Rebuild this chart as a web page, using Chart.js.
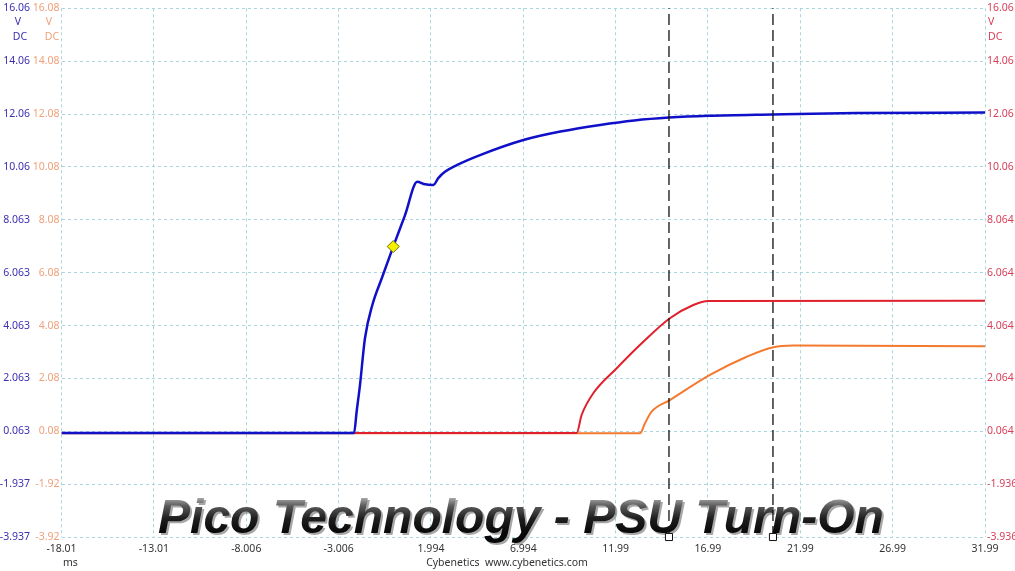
<!DOCTYPE html>
<html>
<head>
<meta charset="utf-8">
<script src="https://cdn.jsdelivr.net/npm/chart.js@4.4.1/dist/chart.umd.min.js"></script>
<style>
  html, body { margin: 0; padding: 0; background: #fff; }
  #wrap { width: 1015px; height: 571px; }
</style>
</head>
<body>
<div id="wrap"><canvas id="scope" width="1015" height="571"></canvas></div>
<script>
// time axis (ms)
const timeTicks = [-18.01, -13.01, -8.006, -3.006, 1.994, 6.994, 11.99, 16.99, 21.99, 26.99, 31.99];

// channel A (blue, left outer axis)
const blueTicks = [-3.937, -1.937, 0.063, 2.063, 4.063, 6.063, 8.063, 10.063, 12.063, 14.063, 16.063];
const blueTickLabels = ["-3.937", "-1.937", "0.063", "2.063", "4.063", "6.063", "8.063", "10.06", "12.06", "14.06", "16.06"];
// channel B (orange, left inner axis)
const orangeTicks = [-3.92, -1.92, 0.08, 2.08, 4.08, 6.08, 8.08, 10.08, 12.08, 14.08, 16.08];
const orangeTickLabels = ["-3.92", "-1.92", "0.08", "2.08", "4.08", "6.08", "8.08", "10.08", "12.08", "14.08", "16.08"];
// channel C (red, right axis)
const redTicks = [-3.936, -1.936, 0.064, 2.064, 4.064, 6.064, 8.064, 10.064, 12.064, 14.064, 16.064];
const redTickLabels = ["-3.936", "-1.936", "0.064", "2.064", "4.064", "6.064", "8.064", "10.06", "12.06", "14.06", "16.06"];

// traces
const blueTime  = [-18.01, -2.17, -2.03, -1.85, -1.58, -1.18, -0.67, -0.05, 0.59, 1.25, 1.6, 2.12, 2.4, 2.75, 3.39, 4.65, 7.0, 9.0, 11.15, 13.0, 14.88, 17.0, 20.51, 25.0, 31.99];
const blueVolts = [0.0, 0.0, 0.81, 1.81, 3.58, 4.84, 5.85, 7.05, 8.24, 9.50, 9.42, 9.38, 9.65, 9.88, 10.13, 10.51, 11.08, 11.4, 11.65, 11.82, 11.93, 12.0, 12.05, 12.1, 12.12];

const redTime  = [-18.01, 9.88, 10.15, 10.78, 12.05, 13.49, 14.93, 16.2, 17.01, 31.99];
const redVolts = [0.0, 0.0, 0.68, 1.50, 2.45, 3.45, 4.34, 4.84, 4.99, 5.0];

const orangeTime  = [-18.01, 13.31, 13.58, 13.94, 14.93, 17.1, 19.09, 20.53, 21.61, 31.99];
const orangeVolts = [0.0, 0.0, 0.38, 0.82, 1.26, 2.21, 2.90, 3.26, 3.32, 3.30];

// rulers and marker
const rulerTimes = [14.88, 20.51];
const markerPoint = { x: -0.05, y: 7.05 };

const pairs = (xs, ys) => xs.map((x, i) => ({ x: x, y: ys[i] }));

const fixTicks = (values) => (scale) => {
  scale.ticks = values.map((v) => ({ value: v }));
};

const rulerSets = rulerTimes.map((t) => ({
  data: [{ x: t, y: blueTicks[0] }, { x: t, y: blueTicks[blueTicks.length - 1] }],
  yAxisID: "yA",
  borderColor: "#111",
  borderWidth: 1.3,
  borderDash: [11, 5],
  pointStyle: "rect",
  pointRadius: [5, 0],
  pointBackgroundColor: "#fff",
  pointBorderColor: "#111",
  pointBorderWidth: 1,
  clip: false,
  order: 0,
}));

const overlay = {
  id: "overlay",
  beforeDatasetsDraw(chart) {
    const ctx = chart.ctx;
    const text = "Pico Technology - PSU Turn-On";
    ctx.save();
    let font = (s) => `italic bold ${s}px "Liberation Sans", Arial, sans-serif`;
    ctx.font = font(60);
    const w = ctx.measureText(text).width;
    const size = 60 * 726 / w;
    ctx.font = font(size);
    const base = 533;
    ctx.textBaseline = "alphabetic";
    ctx.textAlign = "left";
    // soft drop shadow
    ctx.fillStyle = "rgba(60,60,60,0.45)";
    ctx.fillText(text, 160, base + 2);
    // metallic body
    const g = ctx.createLinearGradient(0, base - size * 0.75, 0, base);
    g.addColorStop(0, "#b0b0b0");
    g.addColorStop(0.25, "#5a5a5a");
    g.addColorStop(0.6, "#1e1e1e");
    g.addColorStop(1, "#080808");
    ctx.fillStyle = g;
    ctx.fillText(text, 158, base);
    ctx.restore();
  },
  afterDraw(chart) {
    const ctx = chart.ctx;
    ctx.save();
    ctx.font = '10.5px "Noto Sans", "Open Sans", sans-serif';
    ctx.textBaseline = "middle";
    ctx.textAlign = "center";
    ctx.fillStyle = "#3b2fb0";
    ctx.fillText("V", 18, 22);
    ctx.fillText("DC", 20, 37);
    ctx.fillStyle = "#f0a07a";
    ctx.fillText("V", 49, 22);
    ctx.fillText("DC", 52, 37);
    ctx.textAlign = "left";
    ctx.fillStyle = "#d8405a";
    ctx.fillText("V", 988, 22);
    ctx.fillText("DC", 988, 37);
    ctx.fillStyle = "#333";
    ctx.fillText("ms", 63, 563);
    ctx.textAlign = "center";
    ctx.fillText("Cybenetics  www.cybenetics.com", 507, 563);
    ctx.restore();
  },
};

const gridStyle = {
  color: "#a9d6de",
  lineWidth: 1,
  drawTicks: false,
  borderDash: [3, 3],
};
const dashedBorder = { display: false, dash: [3, 3] };
const tickFont = { family: '"Noto Sans", "Open Sans", sans-serif', size: 10.5 };

new Chart(document.getElementById("scope"), {
  type: "line",
  data: {
    datasets: [
      {
        data: [markerPoint],
        yAxisID: "yA",
        showLine: false,
        pointStyle: "rectRot",
        pointRadius: 6,
        pointBackgroundColor: "#f5f000",
        pointBorderColor: "#707000",
        pointBorderWidth: 1,
        order: 0,
      },
      ...rulerSets,
      {
        data: pairs(blueTime, blueVolts),
        yAxisID: "yA",
        borderColor: "#1010c8",
        borderWidth: 2.5,
        pointRadius: 0,
        cubicInterpolationMode: "monotone",
        order: 1,
      },
      {
        data: pairs(redTime, redVolts),
        yAxisID: "yC",
        borderColor: "#e0202c",
        borderWidth: 2,
        pointRadius: 0,
        cubicInterpolationMode: "monotone",
        order: 2,
      },
      {
        data: pairs(orangeTime, orangeVolts),
        yAxisID: "yB",
        borderColor: "#f47a30",
        borderWidth: 2,
        pointRadius: 0,
        cubicInterpolationMode: "monotone",
        order: 3,
      },
    ],
  },
  options: {
    responsive: false,
    animation: false,
    devicePixelRatio: 1,
    layout: { padding: { top: 8, left: 0, right: 0, bottom: 0 } },
    plugins: { legend: { display: false }, tooltip: { enabled: false } },
    scales: {
      x: {
        type: "linear",
        min: timeTicks[0],
        max: timeTicks[timeTicks.length - 1],
        afterBuildTicks: fixTicks(timeTicks),
        afterFit: (s) => { s.height = 34; },
        border: dashedBorder,
        grid: gridStyle,
        ticks: {
          padding: 6,
          maxRotation: 0,
          autoSkip: false,
          color: "#333",
          font: tickFont,
          callback: (v, i) => String(timeTicks[i]),
        },
      },
      yA: {
        type: "linear",
        position: "left",
        weight: 1,
        min: blueTicks[0],
        max: blueTicks[blueTicks.length - 1],
        afterBuildTicks: fixTicks(blueTicks),
        afterFit: (s) => { s.width = 32; },
        border: dashedBorder,
        grid: gridStyle,
        ticks: {
          padding: 2,
          color: "#3b2fb0",
          font: tickFont,
          callback: (v, i) => blueTickLabels[i],
        },
      },
      yB: {
        type: "linear",
        position: "left",
        weight: 0,
        min: orangeTicks[0],
        max: orangeTicks[orangeTicks.length - 1],
        afterBuildTicks: fixTicks(orangeTicks),
        afterFit: (s) => { s.width = 29.5; },
        border: { display: false },
        grid: { display: false, drawTicks: false },
        ticks: {
          padding: 2,
          color: "#f0a07a",
          font: tickFont,
          callback: (v, i) => orangeTickLabels[i],
        },
      },
      yC: {
        type: "linear",
        position: "right",
        min: redTicks[0],
        max: redTicks[redTicks.length - 1],
        afterBuildTicks: fixTicks(redTicks),
        afterFit: (s) => { s.width = 30; },
        border: { display: false },
        grid: { display: false, drawTicks: false },
        ticks: {
          padding: 2,
          color: "#d8405a",
          font: tickFont,
          callback: (v, i) => redTickLabels[i],
        },
      },
    },
  },
  plugins: [overlay],
});
</script>
</body>
</html>
